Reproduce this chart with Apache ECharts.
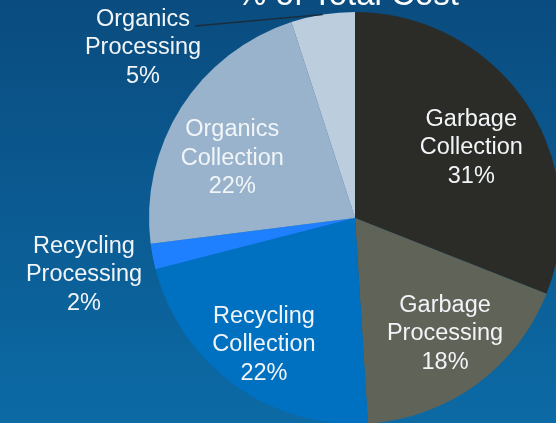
<!DOCTYPE html>
<html>
<head>
<meta charset="utf-8">
<script src="https://cdn.jsdelivr.net/npm/echarts@6/dist/echarts.min.js"></script>
<style>
html,body{margin:0;padding:0;background:#0b5a91;}
#c{width:556px;height:423px;}
</style>
</head>
<body>
<div id="c"></div>
<script>
const titleText = '% of Total Cost';
const categories = ['Garbage Collection', 'Garbage Processing', 'Recycling Collection', 'Recycling Processing', 'Organics Collection', 'Organics Processing'];
const values = [31, 18, 22, 2, 22, 5];
const sliceColors = ['#2b2c28', '#5f6358', '#0070c0', '#1e80ff', '#99b3cc', '#bccddd'];
const outsideItems = [3, 5];

const CENTER = [355, 218];
const RADIUS = 206;

const chart = echarts.init(document.getElementById('c'), null, {renderer: 'canvas'});

const fmt = p => p.name.replace(' ', '\n') + '\n' + p.value + '%';
const txt = {color: '#f2f5f8', fontFamily: 'Liberation Sans, Arial, sans-serif', fontSize: 23.5, lineHeight: 28.5};

// style offsets for inside labels (dx, dy)
const insideOffsets = {0: [-2, 10], 1: [6, 0], 2: [-7, 11], 4: [-2, 17]};
// outside label placement
const outsidePos = {5: [143, 48], 3: [84, 275]};
// leader line end at label side (for Organics Processing)
const leaderEnd = [195, 26];

// anchor point on pie edge for Organics Processing, computed from data
const total = values.reduce((a, b) => a + b, 0);
let cum = 0;
for (let i = 0; i < 5; i++) cum += values[i];
const midFrac = (cum + values[5] / 2) / total;
const ang = midFrac * 2 * Math.PI; // clockwise from 12 o'clock
const anchor = [CENTER[0] + RADIUS * Math.sin(ang), CENTER[1] - RADIUS * Math.cos(ang)];

const mainData = categories.map((n, i) => ({
  name: n,
  value: values[i],
  itemStyle: {color: sliceColors[i]},
  label: outsideItems.includes(i) ? {show: true} : {show: false},
  labelLine: {show: false}
}));
const labelData = categories.map((n, i) => ({
  name: n,
  value: values[i],
  label: {show: !outsideItems.includes(i)}
}));

chart.setOption({
  animation: false,
  backgroundColor: {
    type: 'linear', x: 0, y: 0, x2: 0, y2: 1,
    colorStops: [{offset: 0, color: '#0a4c7f'}, {offset: 1, color: '#0c6aa5'}]
  },
  graphic: [{
    type: 'text', x: 348, y: 12,
    style: {text: titleText, fill: '#ffffff', font: '33px "Liberation Sans", Arial, sans-serif', textAlign: 'center', textVerticalAlign: 'bottom'}
  }, {
    type: 'line', z: 10,
    shape: {x1: leaderEnd[0], y1: leaderEnd[1], x2: anchor[0], y2: anchor[1]},
    style: {stroke: '#1b2d3d', lineWidth: 1.5}
  }],
  series: [{
    type: 'pie',
    center: CENTER,
    radius: RADIUS,
    startAngle: 90,
    clockwise: true,
    silent: true,
    avoidLabelOverlap: false,
    data: mainData,
    label: Object.assign({position: 'outside', formatter: fmt, align: 'center'}, txt),
    labelLine: {show: false},
    labelLayout: p => {
      const pos = outsidePos[p.dataIndex];
      if (!pos) return {};
      return {x: pos[0], y: pos[1], align: 'center', verticalAlign: 'middle'};
    }
  }, {
    type: 'pie',
    center: CENTER,
    radius: [74, RADIUS],
    startAngle: 90,
    clockwise: true,
    silent: true,
    avoidLabelOverlap: false,
    itemStyle: {color: 'rgba(0,0,0,0)'},
    data: labelData,
    label: Object.assign({position: 'inside', formatter: fmt, align: 'center'}, txt),
    labelLine: {show: false},
    labelLayout: p => {
      const o = insideOffsets[p.dataIndex];
      return o ? {dx: o[0], dy: o[1]} : {};
    }
  }]
});
</script>
</body>
</html>
